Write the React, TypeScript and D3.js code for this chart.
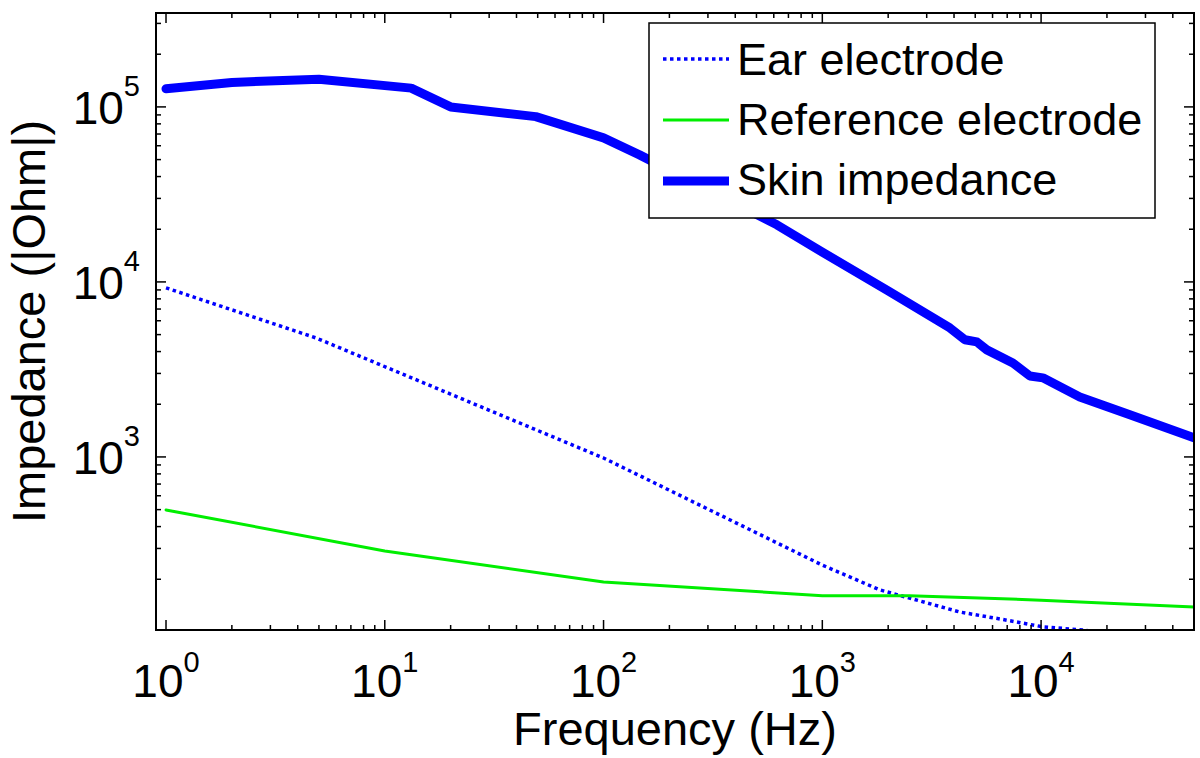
import React from "react";
import * as d3 from "d3";

// ---- Data ----
const skinFreq = [1, 2, 5, 13.2, 20, 49, 100, 146, 620, 1000, 2000, 3830, 4485, 5090, 5650, 7430, 8890, 10190, 15030, 25450, 50000];
const skinZ = [1.27e5, 1.38e5, 1.44e5, 1.28e5, 1.0e5, 8.8e4, 6.65e4, 5.32e4, 2.12e4, 1.48e4, 8.9e3, 5.46e3, 4.67e3, 4.54e3, 4.09e3, 3.44e3, 2.9e3, 2.83e3, 2.2e3, 1.74e3, 1.285e3];

const earFreq = [1, 4.85, 100, 1000, 1830, 4250, 6490, 10190, 15500, 50000];
const earZ = [9250, 4786, 986, 241, 174, 130, 118.6, 107, 102.6, 85];

const refFreq = [1, 10, 100, 1000, 2500, 10000, 18000, 50000];
const refZ = [498, 290, 193, 161, 161, 152, 147, 139];

const xDecades = [0, 1, 2, 3, 4];
const yDecades = [3, 4, 5];
const legendLabels = ["Ear electrode", "Reference electrode", "Skin impedance"];

const W = 1200;
const H = 758;
const L = 156, R = 1194, T = 13, B = 630;
const FONT = "'Liberation Sans', Arial, Helvetica, sans-serif";

export default function App() {
  const x = d3.scaleLog().domain([0.9, 5e4]).range([L, R]);
  const y = d3.scaleLog().domain([102.6, 3.44e5]).range([B, T]);

  const line = d3
    .line<[number, number]>()
    .x((d) => x(d[0]))
    .y((d) => y(d[1]));

  const zip = (a: number[], b: number[]) => a.map((v, i) => [v, b[i]] as [number, number]);

  const xTicks: { v: number; major: boolean }[] = [];
  for (let e = -1; e <= 4; e++) {
    for (let m = 1; m <= 9; m++) {
      const v = m * Math.pow(10, e);
      if (v >= 0.9 && v <= 5e4) xTicks.push({ v, major: m === 1 });
    }
  }
  const yTicks: { v: number; major: boolean }[] = [];
  for (let e = 2; e <= 5; e++) {
    for (let m = 1; m <= 9; m++) {
      const v = m * Math.pow(10, e);
      if (v >= 102.6 && v <= 3.44e5) yTicks.push({ v, major: m === 1 });
    }
  }

  const series = [
    { data: zip(earFreq, earZ), color: "#0000ff", width: 3.5, dash: "3.5 3.5" },
    { data: zip(refFreq, refZ), color: "#00ee00", width: 3, dash: undefined },
    { data: zip(skinFreq, skinZ), color: "#0000ff", width: 9, dash: undefined },
  ];

  return (
    <svg
      width={W}
      height={H}
      style={{ position: "absolute", left: 0, top: 0, background: "#fff" }}
      fontFamily={FONT}
    >
      <defs>
        <clipPath id="plotClip">
          <rect x={L} y={T} width={R - L} height={B - T} />
        </clipPath>
      </defs>
      <rect x={0} y={0} width={W} height={H} fill="#fff" />

      <g clipPath="url(#plotClip)">
        {series.map((s, i) => (
          <path
            key={i}
            d={line(s.data) || ""}
            fill="none"
            stroke={s.color}
            strokeWidth={s.width}
            strokeDasharray={s.dash}
            strokeLinejoin="round"
            strokeLinecap={s.dash ? "butt" : "round"}
          />
        ))}
      </g>

      <g stroke="#000" strokeWidth={1.5}>
        {xTicks.map((t, i) => {
          const px = x(t.v);
          const len = t.major ? 10 : 5;
          return (
            <g key={"xt" + i}>
              <line x1={px} x2={px} y1={B} y2={B - len} />
              <line x1={px} x2={px} y1={T} y2={T + len} />
            </g>
          );
        })}
        {yTicks.map((t, i) => {
          const py = y(t.v);
          const len = t.major ? 10 : 5;
          return (
            <g key={"yt" + i}>
              <line x1={L} x2={L + len} y1={py} y2={py} />
              <line x1={R} x2={R - len} y1={py} y2={py} />
            </g>
          );
        })}
      </g>

      <rect x={L} y={T} width={R - L} height={B - T} fill="none" stroke="#000" strokeWidth={2} />

      {xDecades.map((e) => (
        <text key={"xl" + e} x={x(Math.pow(10, e))} y={697} textAnchor="middle" fontSize={46} fill="#000">
          10
          <tspan dy={-25} fontSize={29}>
            {e}
          </tspan>
        </text>
      ))}

      {yDecades.map((e) => (
        <text key={"yl" + e} x={140} y={y(Math.pow(10, e)) + 17} textAnchor="end" fontSize={46} fill="#000">
          10
          <tspan dy={-28} fontSize={29}>
            {e}
          </tspan>
        </text>
      ))}

      <text x={(L + R) / 2} y={745} textAnchor="middle" fontSize={47} fill="#000">
        Frequency (Hz)
      </text>
      <text
        transform={`translate(45, ${(T + B) / 2}) rotate(-90)`}
        textAnchor="middle"
        fontSize={47}
        fill="#000"
      >
        Impedance (|Ohm|)
      </text>

      <rect x={649} y={23} width={506} height={195} fill="#fff" stroke="#000" strokeWidth={1.5} />
      {legendLabels.map((lab, i) => {
        const s = series[i];
        const cy = 59 + i * 61;
        return (
          <g key={"lg" + i}>
            <line
              x1={663}
              x2={729}
              y1={cy}
              y2={cy}
              stroke={s.color}
              strokeWidth={s.width}
              strokeDasharray={s.dash}
            />
            <text x={737} y={75 + i * 60} fontSize={45} fill="#000">
              {lab}
            </text>
          </g>
        );
      })}
    </svg>
  );
}
